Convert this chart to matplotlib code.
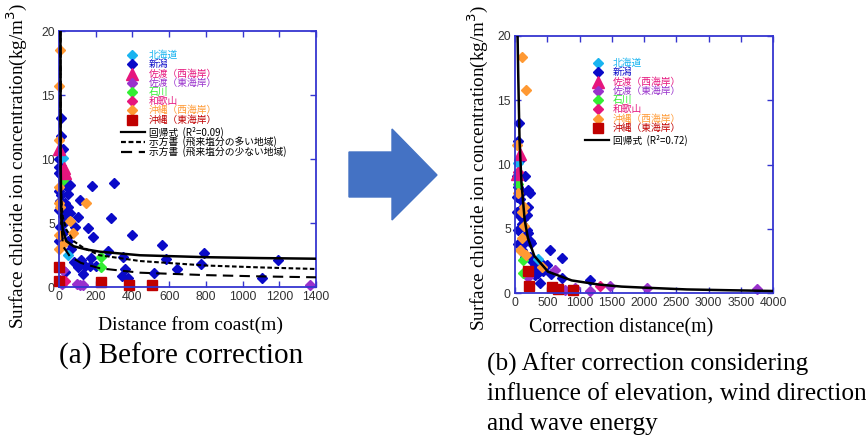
import matplotlib
matplotlib.use("Agg")
import matplotlib.pyplot as plt
from matplotlib.lines import Line2D
from matplotlib.patches import Polygon

W, H = 866, 437

# ---------------- data: (a) before correction ----------------
a_hokkaido_x = [22, 49]
a_hokkaido_y = [10.1, 2.5]
a_niigata_x = [13, 9, 22, 2, 1, 13, 1, 13, 31, 1, 13, 40, 49, 58, 4, 31, 49, 13, 1, 22, 40, 58, 31, 4, 22, 49, 1, 67,
               178, 300, 113, 104, 282, 158, 186, 86, 395, 562, 582, 789, 771, 645, 518, 1195, 1104, 267, 349, 358,
               345, 376, 122, 131, 176, 204, 167, 140, 104, 80, 30]
a_niigata_y = [13.2, 11.8, 10.8, 10.0, 9.4, 9.5, 8.9, 8.8, 8.2, 7.5, 7.2, 7.9, 7.3, 8.0, 6.7, 6.6, 6.3, 6.0, 6.0, 5.6,
               5.9, 5.8, 5.1, 4.7, 4.2, 3.6, 3.6, 3.0,
               7.9, 8.1, 6.8, 5.5, 5.4, 4.6, 3.9, 4.7, 4.1, 3.3, 2.2, 2.65, 1.8, 1.4, 1.1, 2.1, 0.7, 2.8, 2.4, 1.4,
               0.9, 0.7, 2.1, 1.0, 2.3, 1.7, 1.7, 1.7, 1.6, 2.0, 1.2]
a_sado_w_x = [1, 25, 35]
a_sado_w_y = [10.8, 9.3, 8.9]
a_sado_e_x = [24, 15, 8, 96, 115, 131, 1367]
a_sado_e_y = [1.35, 0.25, 0.6, 0.25, 0.15, 0.2, 0.15]
a_ishikawa_x = [22, 231, 231]
a_ishikawa_y = [8.4, 2.4, 1.6]
a_wakayama_x = [33]
a_wakayama_y = [0.5]
a_okinawa_w_x = [7, 1, 1, 1, 1, 5, 147, 60, 76, 1, 22, 1]
a_okinawa_w_y = [18.5, 15.7, 11.5, 7.8, 6.6, 6.3, 6.6, 5.2, 4.2, 4.1, 3.4, 3.0]
a_okinawa_e_x = [1, 1, 231, 382, 504]
a_okinawa_e_y = [1.6, 0.5, 0.45, 0.2, 0.2]

a_fit_x = [8, 9, 12, 20, 40, 80, 150, 222, 441, 800, 1100, 1400]
a_fit_y = [20, 10, 6, 4.5, 3.6, 3.2, 2.95, 2.78, 2.5, 2.35, 2.28, 2.23]
a_high_x = [8, 9, 12, 20, 40, 80, 131, 222, 441, 800, 1100, 1400]
a_high_y = [20, 10, 7, 5.5, 4.5, 3.6, 3.1, 2.5, 2.05, 1.7, 1.55, 1.43]
a_low_x = [8, 9, 12, 22, 60, 120, 223, 441, 800, 1100, 1400]
a_low_y = [20, 10, 5, 3.2, 2.4, 1.9, 1.48, 1.14, 0.95, 0.85, 0.78]

# ---------------- data: (b) after correction ----------------
b_hokkaido_x = [52, 357]
b_hokkaido_y = [10.1, 2.65]
b_niigata_x = [67, 52, 77, 26, 155, 52, 103, 206, 232, 26, 77, 119, 206, 36, 77, 129, 181, 103, 52, 181, 206, 232,
               242, 52, 129, 103, 155, 232, 258, 310, 413, 501, 543, 729, 310, 387, 557, 723, 1161, 258, 361, 439]
b_niigata_y = [13.2, 11.8, 10.4, 9.1, 9.1, 8.3, 7.9, 8.0, 7.8, 7.5, 7.3, 6.7, 6.7, 6.3, 6.0, 5.8, 6.1, 5.4, 4.9, 4.9,
               4.7, 4.1, 3.9, 3.8, 3.8, 3.4, 2.8, 2.8, 2.5, 2.3, 2.3, 2.2, 3.4, 2.75, 1.4, 0.8, 1.5, 1.2, 1.0, 1.9,
               1.55, 1.7]
b_sado_w_x = [77, 36]
b_sado_w_y = [10.8, 9.3]
b_sado_e_x = [620, 775, 930, 1163, 1473, 206, 2039, 3757]
b_sado_e_y = [1.8, 0.26, 0.4, 0.2, 0.57, 1.3, 0.45, 0.3]
b_ishikawa_x = [46, 124, 124]
b_ishikawa_y = [8.5, 2.6, 1.6]
b_wakayama_x = [1318, 46]
b_wakayama_y = [0.57, 9.45]
b_okinawa_w_x = [103, 170, 26, 46, 140, 108, 140, 108, 78, 166, 418]
b_okinawa_w_y = [18.4, 15.8, 11.5, 7.8, 6.7, 6.3, 5.2, 4.3, 3.4, 3.0, 2.05]
b_okinawa_e_x = [206, 217, 568, 670, 900]
b_okinawa_e_y = [1.7, 0.57, 0.5, 0.33, 0.26]

b_fit_x = [40, 50, 70, 100, 150, 200, 300, 512, 879, 1300, 1654, 2000, 2667, 3300, 4000]
b_fit_y = [20, 17, 12, 8.6, 5.7, 4.3, 2.9, 1.68, 1.0, 0.68, 0.52, 0.44, 0.3, 0.24, 0.18]

legend_labels = ["北海道", "新潟", "佐渡（西海岸）", "佐渡（東海岸）", "石川", "和歌山", "沖縄（西海岸）", "沖縄（東海岸）"]
legend_colors = ["#19B4F0", "#0A0AC8", "#E6157D", "#9932CC", "#33EE33", "#E6157D", "#FF9933", "#C00000"]
legend_markers = ["D", "D", "^", "D", "D", "D", "D", "s"]
legend_ms = [5, 5, 8, 5, 5, 5, 5, 7]

a_line_labels = ["回帰式  (R²=0.09)", "示方書  (飛来塩分の多い地域)", "示方書  (飛来塩分の少ない地域)"]
b_line_labels = ["回帰式  (R²=0.72)"]

a_xticks = [0, 200, 400, 600, 800, 1000, 1200, 1400]
b_xticks = [0, 500, 1000, 1500, 2000, 2500, 3000, 3500, 4000]
yticks = [0, 5, 10, 15, 20]

JP = ["Noto Sans CJK JP", "DejaVu Sans"]
SERIF = "Liberation Serif"
SANS = "Liberation Sans"
BLUE = "#3535D0"

fig = plt.figure(figsize=(W / 100, H / 100), dpi=100)


def fx(px):
    return px / W


def fy(py):
    return 1 - py / H


def make_axes(l, r, t, b, xmax, xticks):
    ax = fig.add_axes([fx(l), fy(b), fx(r) - fx(l), (b - t) / H])
    ax.set_xlim(0, xmax)
    ax.set_ylim(0, 20)
    ax.set_xticks(xticks)
    ax.set_yticks(yticks)
    for s in ax.spines.values():
        s.set_color(BLUE)
        s.set_linewidth(1.3)
    ax.tick_params(direction="in", length=4, width=1, color=BLUE, top=True, right=True,
                   labelsize=8.8, labelcolor="#333333", pad=3)
    for lab in ax.get_xticklabels() + ax.get_yticklabels():
        lab.set_fontfamily(SANS)
    return ax


ax1 = make_axes(59, 316, 31, 287.3, 1400, a_xticks)
ax2 = make_axes(515, 773, 36, 293.3, 4000, b_xticks)

groups_a = [(a_hokkaido_x, a_hokkaido_y), (a_niigata_x, a_niigata_y), (a_sado_w_x, a_sado_w_y),
            (a_sado_e_x, a_sado_e_y), (a_ishikawa_x, a_ishikawa_y), (a_wakayama_x, a_wakayama_y),
            (a_okinawa_w_x, a_okinawa_w_y), (a_okinawa_e_x, a_okinawa_e_y)]
groups_b = [(b_hokkaido_x, b_hokkaido_y), (b_niigata_x, b_niigata_y), (b_sado_w_x, b_sado_w_y),
            (b_sado_e_x, b_sado_e_y), (b_ishikawa_x, b_ishikawa_y), (b_wakayama_x, b_wakayama_y),
            (b_okinawa_w_x, b_okinawa_w_y), (b_okinawa_e_x, b_okinawa_e_y)]

draw_order = [1, 0, 3, 4, 5, 6, 2, 7]
for ax, groups in ((ax1, groups_a), (ax2, groups_b)):
    for i in draw_order:
        gx, gy = groups[i]
        ax.plot(gx, gy, linestyle="none", marker=legend_markers[i], ms=legend_ms[i] + 0.5,
                color=legend_colors[i], mec=legend_colors[i], clip_on=False, zorder=2)

ax1.plot(a_fit_x, a_fit_y, color="black", lw=1.8, zorder=3)
ax1.plot(a_high_x, a_high_y, color="black", lw=1.5, dashes=(2.2, 1.2), zorder=3)
ax1.plot(a_low_x, a_low_y, color="black", lw=1.5, dashes=(5, 3), zorder=3)
ax2.plot(b_fit_x, b_fit_y, color="black", lw=1.8, zorder=3)


def legend(mx, tx, rows_y, line_rows, line_labels, line_x0, line_x1, line_styles):
    for i, lab in enumerate(legend_labels):
        fig.add_artist(Line2D([fx(mx)], [fy(rows_y[i])], marker=legend_markers[i], ms=legend_ms[i],
                              color=legend_colors[i], linestyle="none", transform=fig.transFigure))
        fig.text(fx(tx), fy(rows_y[i]), lab, color=legend_colors[i], fontsize=7, family=JP,
                 va="center", ha="left")
    for j, lab in enumerate(line_labels):
        ls = line_styles[j]
        ln = Line2D([fx(line_x0), fx(line_x1)], [fy(line_rows[j])] * 2, color="black", lw=1.6,
                    transform=fig.transFigure)
        if ls is not None:
            ln.set_dashes(ls)
        fig.add_artist(ln)
        fig.text(fx(tx), fy(line_rows[j]), lab, color="black", fontsize=7, family=JP,
                 va="center", ha="left")


legend(132, 149, [55, 64, 74, 83, 92, 101, 110, 120], [132, 142, 152], a_line_labels, 121, 145,
       [None, (2.2, 1.2), (5, 3)])
legend(598, 613, [63, 72, 82, 91, 100, 109, 119, 128], [140], b_line_labels, 585, 609, [None])

# axis labels
ylab = "Surface chloride ion concentration(kg/m$^3$)"
fig.text(fx(17), fy(166), ylab, rotation=90, fontsize=13.8, family=SERIF, va="center", ha="center")
fig.text(fx(478), fy(168), ylab, rotation=90, fontsize=13.8, family=SERIF, va="center", ha="center")
fig.text(fx(191), fy(325), "Distance from coast(m)", fontsize=14, family=SERIF, va="center", ha="center")
fig.text(fx(621), fy(328), "Correction distance(m)", fontsize=14.3, family=SERIF, va="center", ha="center")

# captions
fig.text(fx(181), fy(356), "(a) Before correction", fontsize=21, family=SERIF, va="center", ha="center")
fig.text(fx(487), fy(394), "(b) After correction considering\ninfluence of elevation, wind direction\nand wave energy",
         fontsize=18.2, family=SERIF, va="center", ha="left", linespacing=1.45)

# arrow
arrow_px = [(349, 152), (392, 152), (392, 129), (437, 175), (392, 220), (392, 197), (349, 197)]
fig.add_artist(Polygon([(fx(x), fy(y)) for x, y in arrow_px], closed=True, facecolor="#4472C4",
                       edgecolor="#4472C4", transform=fig.transFigure))

fig.savefig("out.png", dpi=100)
